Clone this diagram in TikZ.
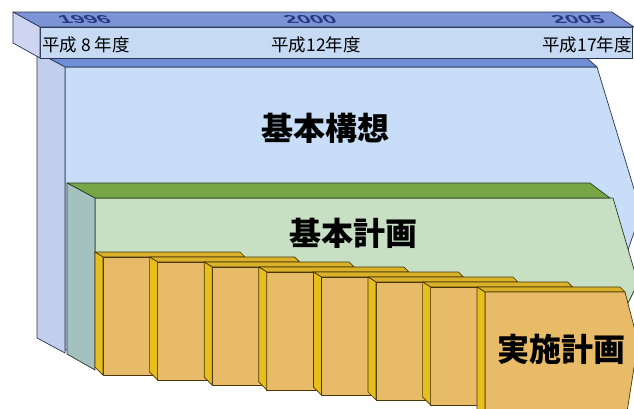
\documentclass[tikz,border=0pt]{standalone}
\usepackage{fontspec}
\setmainfont{Noto Sans CJK JP}
\newfontfamily\numfont{Liberation Sans}
\definecolor{tlTop}{HTML}{7C94D6}
\definecolor{tlFront}{HTML}{C6DAF4}
\definecolor{tlLeft}{HTML}{CDD5F2}
\definecolor{bTop}{HTML}{6E8ED6}
\definecolor{bFront}{HTML}{C8DDF7}
\definecolor{bLeft}{HTML}{C2CEEE}
\definecolor{gTop}{HTML}{76A646}
\definecolor{gFront}{HTML}{C7E0C3}
\definecolor{gLeft}{HTML}{A3C1BE}
\definecolor{oFront}{HTML}{E8BB68}
\definecolor{oLeft}{HTML}{E8BE1C}
\definecolor{oTop}{HTML}{D9B22A}
\definecolor{bLine}{HTML}{2A3350}
\definecolor{gLine}{HTML}{2E3A20}
\definecolor{oLine}{HTML}{4A3508}
\definecolor{yearCol}{HTML}{2A3A80}
\begin{document}
\begin{tikzpicture}[x=1pt,y=-1pt,
  bface/.style={draw=bLine,line width=0.7pt,line join=round},
  gface/.style={draw=gLine,line width=0.7pt,line join=round},
  oface/.style={draw=oLine,line width=0.7pt,line join=round},
  yearlab/.style={font=\numfont\bfseries\itshape\fontsize{23}{23}\selectfont,text=yearCol,xslant=-1.0,yscale=0.5,inner sep=0pt},
  tllab/.style={font=\fontsize{17.5}{17.5}\selectfont,inner sep=0pt},
  bigname/.style={font=\bfseries\fontsize{32}{32}\selectfont,inner sep=0pt}]
\useasboundingbox (0,0) rectangle (634,408);
\fill[white] (0,0) rectangle (634,408);
\clip (0,0) rectangle (634,408);
% --- basic concept block (blue)
\fill[bFront,bface] (65,67) -- (597,67) -- (641,212) -- (628,250) -- (610,300) -- (610,350) -- (65,350) -- cycle;
\fill[bTop,bface] (37,52) -- (580,52) -- (597,67) -- (65,67) -- cycle;
\fill[bLeft,bface] (37,52) -- (65,67) -- (65,353) -- (37,338) -- cycle;
% --- basic plan block (green)
\fill[gFront,gface] (95,198) -- (613,198) -- (638,283) -- (628,303) -- (615,330) -- (615,362) -- (95,362) -- cycle;
\fill[gTop,gface] (67,183) -- (590,183) -- (610,198) -- (95,198) -- cycle;
\fill[gLeft,gface] (67,183) -- (95,198) -- (95,370) -- (67,354) -- cycle;
% --- implementation plan slabs (orange)
\foreach \i in {0,...,6}{
  \pgfmathsetmacro\xa{95+54.6*\i}
  \pgfmathsetmacro\ya{252+5*\i}
  \fill[oTop,oface] (\xa,\ya) -- ++(145,0) -- ++(5,5) -- ++(-142,0) -- cycle;
  \fill[oFront,oface] (\xa+8,\ya+5) -- ++(142,0) -- ++(0,118) -- ++(-142,0) -- cycle;
  \fill[oLeft,oface] (\xa,\ya) -- ++(8,5) -- ++(0,118) -- ++(-8,-8) -- cycle;
}
\fill[oTop,oface] (477,287) -- (620,287) -- (625,292) -- (485,292) -- cycle;
\fill[oFront,oface] (485,292) -- (625,292) -- (638,342) -- (627,412) -- (485,412) -- cycle;
\fill[oLeft,oface] (477,287) -- (485,292) -- (485,412) -- (477,412) -- cycle;
% --- timeline bar
\fill[tlFront,bface] (40,27) -- (632,27) -- (632,58) -- (40,58) -- cycle;
\fill[tlTop,bface] (13,12) -- (612,12) -- (634,27) -- (40,27) -- cycle;
\fill[tlLeft,bface] (13,12) -- (40,27) -- (40,58) -- (13,43) -- cycle;
% --- labels
\node[yearlab] (y1996) at (84,20) {1996};
\node[yearlab] (y2000) at (310,20) {2000};
\node[yearlab] (y2005) at (578,20) {2005};
\node[tllab,anchor=west] (h8) at (42,45) {平成 8 年度};
\node[tllab] (h12) at (316,45) {平成12年度};
\node[tllab,anchor=east] (h17) at (632,45) {平成17年度};
\node[bigname] (kousou) at (325,128) {基本構想};
\node[bigname] (keikaku) at (353,233) {基本計画};
\node[bigname] (jisshi) at (561,349) {実施計画};
\end{tikzpicture}
\end{document}
